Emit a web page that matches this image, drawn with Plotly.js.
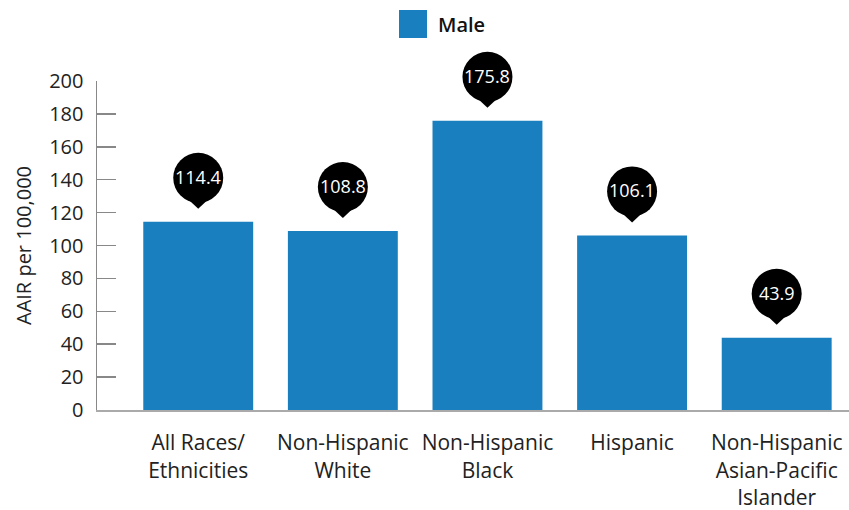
<!DOCTYPE html>
<html>
<head>
<meta charset="utf-8">
<script src="https://cdn.plot.ly/plotly-3.0.1.min.js"></script>
<style>html,body{margin:0;padding:0;background:#fff;}#chart{width:849px;height:510px;}</style>
</head>
<body>
<div id="chart"></div>
<script>
const categories = ["All Races/<br>Ethnicities", "Non-Hispanic<br>White", "Non-Hispanic<br>Black", "Hispanic", "Non-Hispanic<br>Asian-Pacific<br>Islander"];
const maleValues = [114.4, 108.8, 175.8, 106.1, 43.9];
const seriesName = "Male";
const yTicks = [0, 20, 40, 60, 80, 100, 120, 140, 160, 180, 200];
const Y_MAX = 200;

const BLUE = "#1a7fbe";
const FONT = "Open Sans";

const shapes = [];
const annotations = [];
maleValues.forEach((v, i) => {
  // y given in paper fraction of the [0, Y_MAX] axis so the pin is not clipped
  shapes.push({
    type: "circle", xref: "x", yref: "paper",
    xsizemode: "pixel", ysizemode: "pixel",
    xanchor: i, yanchor: v / Y_MAX,
    x0: -25, x1: 25, y0: 19, y1: 69,
    fillcolor: "#000", line: {width: 0}
  });
  shapes.push({
    type: "path", xref: "x", yref: "paper",
    xsizemode: "pixel", ysizemode: "pixel",
    xanchor: i, yanchor: v / Y_MAX,
    path: "M -16 28 L 0 13 L 16 28 Z",
    fillcolor: "#000", line: {width: 0}
  });
  annotations.push({
    x: i, y: v, xref: "x", yref: "y",
    text: v.toFixed(1), showarrow: false,
    yshift: 45,
    font: {family: FONT, size: 18, color: "#fff", weight: 500}
  });
});

// legend
shapes.push({
  type: "rect", xref: "paper", yref: "paper",
  xsizemode: "pixel", ysizemode: "pixel",
  xanchor: 0.4016, yanchor: 1.1307,
  x0: 0, x1: 28, y0: 0, y1: 28,
  fillcolor: BLUE, line: {width: 0}
});

const data = [{
  type: "bar",
  x: categories.map((c, i) => i),
  y: maleValues,
  name: seriesName,
  marker: {color: BLUE},
  hoverinfo: "skip"
}];

const layout = {
  width: 849, height: 510,
  margin: {l: 97, r: 0, t: 81, b: 100},
  paper_bgcolor: "#fff", plot_bgcolor: "#fff",
  showlegend: false,
  bargap: 0.24,
  font: {family: FONT, color: "#222"},
  xaxis: {
    range: [-0.7, 4.5],
    tickmode: "array",
    tickvals: categories.map((c, i) => i),
    ticktext: categories,
    ticks: "",
    showgrid: false, zeroline: false,
    showline: true, linecolor: "#aaa", linewidth: 2,
    tickfont: {family: FONT, size: 21, color: "#222"},
    ticklabelstandoff: 13
  },
  yaxis: {
    range: [0, Y_MAX],
    tickmode: "array",
    tickvals: yTicks,
    ticks: "inside", ticklen: 19, tickcolor: "#888", tickwidth: 1.5,
    showgrid: false, zeroline: false,
    showline: true, linecolor: "#888", linewidth: 1.5,
    tickfont: {family: FONT, size: 20, color: "#222"},
    ticklabelstandoff: 8,
    title: {text: "AAIR per 100,000", font: {family: FONT, size: 20, color: "#222"}, standoff: 12}
  },
  shapes: shapes,
  annotations: annotations.concat([{
    xref: "paper", yref: "paper", x: 0.4508, y: 1.173,
    xanchor: "left", yanchor: "middle",
    text: seriesName, showarrow: false,
    font: {family: FONT, size: 20, color: "#111", weight: 600}
  }])
};

Plotly.newPlot("chart", data, layout, {displayModeBar: false, staticPlot: true});
</script>
</body>
</html>
